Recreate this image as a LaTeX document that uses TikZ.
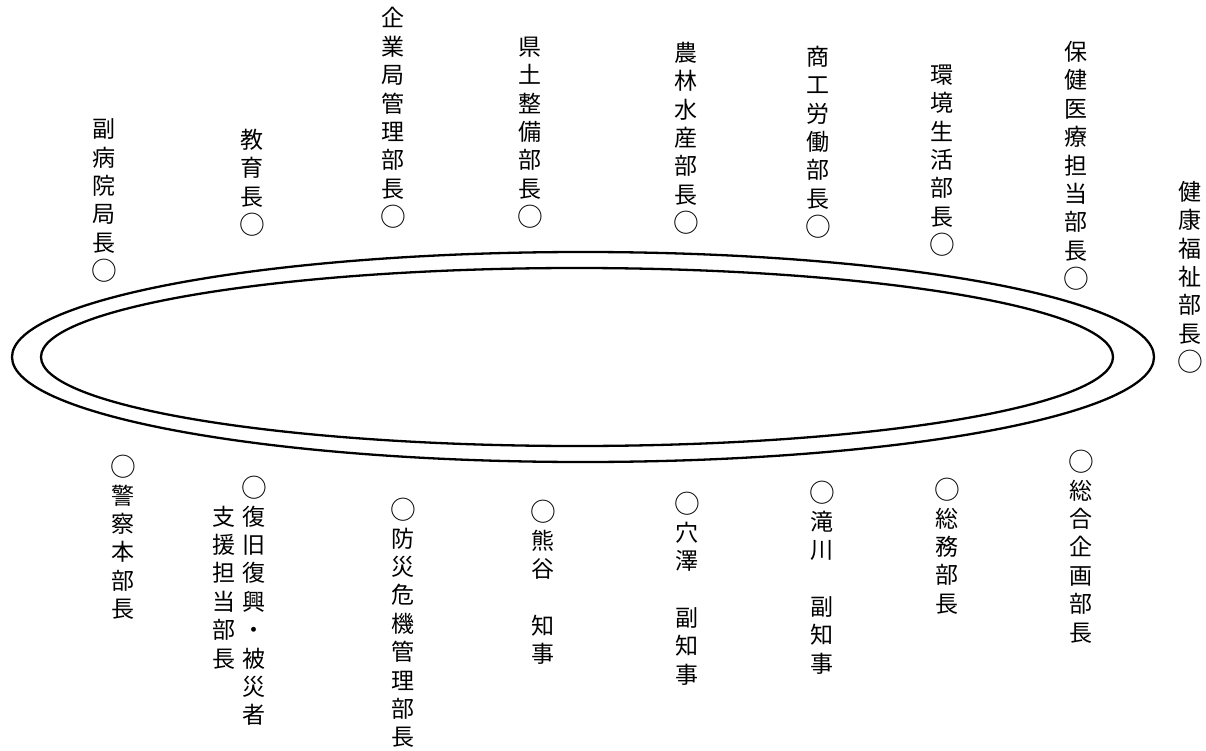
\documentclass[tikz,border=0pt]{standalone}
\usepackage{graphicx}
\usepackage{fontspec}
\newfontfamily\cjk{Noto Sans CJK JP}
\newcommand\seatmark{\raisebox{-1.2pt}{\scalebox{1.12}{○}}}
\tikzset{
  seatlabel/.style={anchor=base, align=center, inner sep=0pt, font=\cjk\fontsize{23}{28.4}\selectfont},
  ring/.style={line width=2.3pt}
}
\begin{document}
\begin{tikzpicture}[x=1pt,y=-1pt]
  \useasboundingbox[fill=white] (0,0) rectangle (1206,751);
  % table
  \draw[ring] (583,357) ellipse [x radius=571pt, y radius=105pt];
  \draw[ring] (577,357) ellipse [x radius=536pt, y radius=89pt];
  % seats above the table (y = last line)
  \foreach \x/\y/\txt [count=\i] in {
      104/271/{副\\病\\院\\局\\長\\\seatmark},
      252/225/{教\\育\\長\\\seatmark},
      393/217/{企\\業\\局\\管\\理\\部\\長\\\seatmark},
      530/217/{県\\土\\整\\備\\部\\長\\\seatmark},
      686/223/{農\\林\\水\\産\\部\\長\\\seatmark},
      818/227/{商\\工\\労\\働\\部\\長\\\seatmark},
      942/245/{環\\境\\生\\活\\部\\長\\\seatmark},
      1076/279/{保\\健\\医\\療\\担\\当\\部\\長\\\seatmark},
      1190/362/{健\\康\\福\\祉\\部\\長\\\seatmark}}
  {
    \node[seatlabel] (up\i) at (\x,\y+8.7) {\txt};
  }
  % seats below the table (y = last line)
  \foreach \x/\y/\txt [count=\i] in {
      123/609/{\seatmark\\警\\察\\本\\部\\長},
      254/715.2/{\seatmark\\復\\旧\\復\\興\\・\\被\\災\\者},
      403/737.2/{\seatmark\\防\\災\\危\\機\\管\\理\\部\\長},
      543/654/{\seatmark\\熊\\谷\\　\\知\\事},
      687/674.4/{\seatmark\\穴\\澤\\　\\副\\知\\事},
      822/663.4/{\seatmark\\滝\\川\\　\\副\\知\\事},
      947/603.6/{\seatmark\\総\\務\\部\\長},
      1081/632.4/{\seatmark\\総\\合\\企\\画\\部\\長}}
  {
    \node[seatlabel] (down\i) at (\x,\y+8.7) {\txt};
  }
  \node[seatlabel, anchor=base east, xshift=-5pt, yshift=56.8pt] (down2b) at (down2.base west) {支\\援\\担\\当\\部\\長};
\end{tikzpicture}
\end{document}
